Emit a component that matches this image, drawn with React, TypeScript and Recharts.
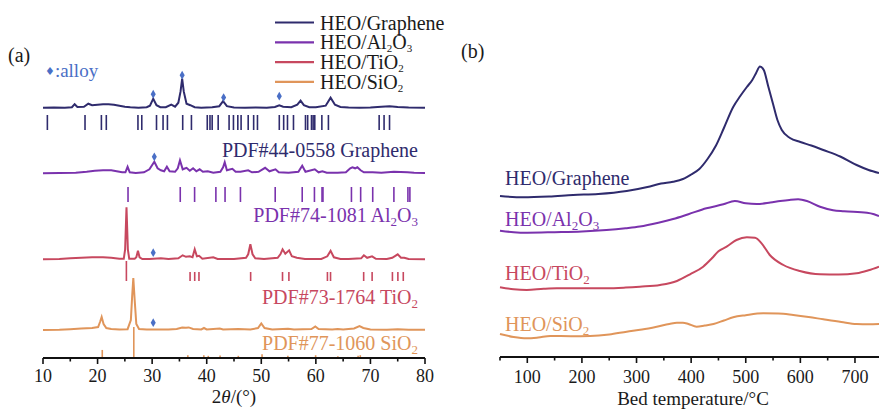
import React from "react";
import { ComposedChart, Line, Scatter, XAxis, YAxis, ZAxis, ReferenceLine } from "recharts";

const FONT = '"Liberation Serif", "Times New Roman", serif';

const SERIES = ["HEO/Graphene", "HEO/Al_2O_3", "HEO/TiO_2", "HEO/SiO_2"];
const COLORS = ["#2f2b6d", "#7a32ad", "#c7485f", "#e0955a"];
const ALLOY_COLOR = "#4a6fc6";

// (a) XRD patterns: [2θ, intensity a.u.]
const xrdGraphene = [
  [10, 0], [12, 0.3], [14, 0], [15.3, 0.5], [15.8, 3.5], [16.3, 0.8], [17.5, 1], [18.3, 4], [19, 2.5],
  [20, 3], [21, 3.5], [22, 3.5], [23, 3], [24, 2], [25, 1], [26, 0.5], [27.5, 0], [29, 0.5], [29.6, 2],
  [30.2, 9], [30.8, 2.5], [31.5, 0.5], [32.5, 0.5], [33.5, 3], [34.2, 1], [34.8, 5], [35.2, 16], [35.5, 29],
  [35.8, 16], [36.3, 4], [37.0, 2.5], [37.8, 0.5], [39, 0], [41, 0.5], [42.3, 1.5], [43.0, 6.5], [43.7, 1.5],
  [45, 0.3], [47, 0], [49, 0.3], [51, 0], [52.5, 0.8], [53.3, 2.5], [54, 1], [55.5, 0.5], [56.6, 3],
  [57.2, 7], [57.8, 2.5], [58.8, 0.5], [60, 0.5], [61.8, 2], [62.7, 10], [63.5, 3], [64.5, 0.8], [66, 0.3],
  [68, 0], [70, 0.3], [72, 1], [73.5, 1.5], [75, 0.8], [77, 0.3], [80, 0],
];
const xrdAl2O3 = [
  [10, 0], [13, 0.3], [16, 0.5], [18, 1.5], [19.5, 2.5], [21, 3], [22.5, 3], [23.5, 2], [24.5, 1], [25.1, 1],
  [25.5, 6.5], [25.9, 1], [27, 0.3], [28.5, 1], [29.5, 4], [30.4, 11.5], [31.0, 5], [31.6, 3], [32.2, 2],
  [32.7, 6.5], [33.2, 2], [34.2, 1.5], [34.7, 5], [35.1, 13], [35.6, 4], [36.3, 5.5], [36.9, 2.5], [37.5, 5],
  [38.1, 2], [38.7, 4], [39.3, 1.5], [40.2, 2], [41.2, 0.5], [42.5, 1.5], [43.0, 6], [43.3, 11], [43.7, 3],
  [44.7, 4.5], [45.3, 1.5], [46.2, 1.5], [47.6, 3], [48.3, 1], [49.5, 1.5], [50.7, 5.5], [51.5, 2], [52.6, 4],
  [53.2, 1], [55, 0.5], [56.8, 1.5], [57.5, 7.5], [58.1, 1.5], [59.8, 4], [60.5, 1], [61.2, 2], [62, 0.5],
  [64, 0.5], [65.5, 1], [66.3, 5], [66.7, 6], [67.2, 5], [67.6, 6], [68.2, 3], [68.8, 1], [70.4, 1],
  [72, 0.5], [74.3, 1.5], [76.8, 1], [78, 0.5], [80, 0.3],
];
const xrdTiO2 = [
  [10, 0], [13, 0.3], [15, 1], [17, 1.5], [19, 2], [21, 2], [22.5, 1.5], [24, 0.5], [24.8, 0.5], [25.05, 10],
  [25.3, 52], [25.55, 10], [25.8, 0.5], [26.8, 0.5], [27.1, 2], [27.4, 8.5], [27.7, 2], [28.2, 0.3],
  [29.5, 0.3], [31.6, 1], [33, 0.3], [34.8, 1], [35.6, 4], [36.2, 2.5], [36.9, 3], [37.4, 2], [37.8, 10],
  [38.2, 3], [38.6, 3.5], [39.2, 0.5], [41.2, 2], [42, 0.3], [45, 0.3], [47.2, 1.5], [47.6, 5], [48.0, 15],
  [48.4, 5], [48.9, 1], [50.5, 0.3], [53, 1.5], [53.5, 5], [53.9, 10], [54.4, 5.5], [55.1, 9], [55.6, 3],
  [56.5, 1.5], [58, 0.3], [61, 0.3], [62.1, 3], [62.7, 8.5], [63.3, 2], [64.5, 0.3], [66, 0.3], [68.3, 1],
  [68.8, 4], [69.4, 1.5], [70.3, 3], [71, 0.5], [73, 0.3], [74, 1.5], [75.0, 5], [75.6, 1.5], [76.2, 1.5],
  [77, 0.3], [80, 0],
];
const xrdSiO2 = [
  [10, 0], [13, 0.3], [15, 0.8], [17, 1.5], [19, 2], [20.1, 3], [20.45, 8], [20.75, 13], [21.1, 6],
  [21.6, 2], [22.5, 1], [24, 0.5], [25.5, 0.8], [26.1, 10], [26.35, 35], [26.55, 52], [26.8, 30], [27.1, 6],
  [27.6, 1], [29, 0.5], [31, 0.5], [33, 0.5], [34.5, 1], [35.5, 2.5], [36.2, 2.3], [36.7, 2.6], [37.5, 1],
  [39, 0.5], [39.5, 2], [40, 0.5], [42.4, 1.5], [43, 0.5], [45.8, 1], [48, 0.5], [49.4, 2], [50.0, 6.5],
  [50.6, 2], [52, 0.5], [54.9, 1.2], [56, 0.5], [59.2, 1], [59.9, 3.5], [60.5, 1], [63, 0.5], [64, 1],
  [65, 0.5], [67, 1.5], [68.0, 3.8], [68.7, 2], [70, 0.5], [73, 0.3], [75, 0.8], [77, 0.3], [80, 0.3],
];

// alloy reflections marked with ♦: [2θ, height]
const alloyGraphene = [[30.2, 13.5], [35.5, 32.5], [43.1, 10.2], [53.3, 11.5]];
const alloyAl2O3 = [[30.4, 16.5]];
const alloyTiO2 = [[30.2, 6.6]];
const alloySiO2 = [[30.2, 7.3]];

// PDF reference sticks: [2θ, relative intensity %]
const pdfGraphene = [
  10.8, 17.7, 20.7, 21.6, 27.4, 28.1, 30.8, 32.0, 32.8, 35.6, 37.2, 40.1, 40.6, 41.0, 42.1, 44.1, 44.9,
  45.7, 46.3, 47.6, 48.6, 49.3, 53.3, 54.1, 54.8, 55.9, 58.1, 58.5, 59.2, 59.5, 59.8, 61.1, 62.3, 71.6,
  72.5, 73.5,
].map((t) => [t, 100]);
const pdfAl2O3 = [
  25.58, 35.15, 37.78, 41.68, 43.36, 46.18, 52.55, 57.5, 59.74, 61.13, 61.3, 66.52, 68.21, 70.42, 74.3,
  76.87, 77.23,
].map((t) => [t, 100]);
const pdfTiO2 = [
  [25.28, 100], [36.95, 45], [37.8, 45], [38.58, 45], [48.05, 45], [53.89, 45], [55.06, 45], [62.12, 45],
  [62.69, 45], [68.76, 45], [70.31, 45], [74.03, 45], [75.03, 45], [76.02, 45],
];
const pdfSiO2 = [
  [20.86, 26], [26.64, 100], [36.54, 9], [39.47, 9], [40.29, 7], [42.45, 8], [45.79, 7], [50.14, 12],
  [54.87, 7], [59.96, 9], [64.03, 6], [67.74, 7], [68.14, 9],
];

const PDF_LABELS = [
  "PDF#44-0558 Graphene",
  "PDF#74-1081 Al_2O_3",
  "PDF#73-1764 TiO_2",
  "PDF#77-1060 SiO_2",
];

// (b) bed temperature profiles: [T °C, signal a.u.]
const tpdGraphene = [
  [50, 0], [92, -1.3], [140, -0.5], [184, 1], [230, 2], [282, 5], [320, 9], [345, 12.5], [367, 14.3],
  [385, 17], [400, 21.5], [415, 27], [430, 37], [445, 50], [460, 68], [477, 89], [490, 100], [502, 109],
  [512, 116], [519, 123], [526, 129.5], [533, 126], [541, 110], [550, 92], [558, 76], [566, 66], [581, 58],
  [600, 54], [620, 50.5], [642, 46], [673, 39.5], [703, 31], [725, 26], [744, 23],
];
const tpdAl2O3 = [
  [50, 0], [75, -1.5], [100, -2], [150, -1.5], [200, -0.8], [245, 0.7], [280, 2.5], [306, 4.2], [340, 8],
  [367, 11.7], [395, 16.5], [428, 22.4], [459, 26.4], [480, 29.7], [500, 27.5], [520, 26.7],
  [545, 28.2], [563, 29.7], [580, 30.8], [596, 31.4], [612, 29.7], [636, 24], [660, 20.5],
  [680, 19.5], [722, 18], [735, 16.5], [744, 14.7],
];
const tpdTiO2 = [
  [50, 0], [75, -2], [99, -2.7], [130, -1.5], [154, -1], [200, -1], [245, -1], [280, -0.3], [306, 0.6],
  [343, 2.3], [374, 6.3], [398, 13], [422, 20.6], [438, 29], [450, 36], [465, 40.6], [483, 47.3],
  [502, 50], [517, 49.6], [529, 44], [544, 32.3], [569, 22.3], [599, 16.3], [636, 13], [670, 12.8],
  [703, 14], [725, 17], [744, 20.6],
];
const tpdSiO2 = [
  [50, 0], [75, -3], [99, -4.3], [120, -3.5], [142, -2], [180, -2.2], [215, -2], [250, -0.5], [282, 2.3],
  [310, 4.5], [337, 7.3], [360, 10], [374, 11.3], [385, 11.3], [395, 10], [410, 7.3], [425, 8.5], [441, 10],
  [460, 13.5], [477, 16.7], [500, 18.8], [532, 20.7], [560, 20.5], [587, 19], [615, 17], [642, 14.7],
  [675, 12], [703, 10], [725, 9.8], [744, 10],
];

const xrdTicks = [10, 15, 20, 25, 30, 35, 40, 45, 50, 55, 60, 65, 70, 75, 80];
const tempTicks = [50, 100, 150, 200, 250, 300, 350, 400, 450, 500, 550, 600, 650, 700];

// vertical stacking of the patterns
const XRD_OFFSETS = [250.3, 184.7, 98.7, 28];
const PDF_BASES = [228, 156, 77, 0];
const PDF_LENGTHS = [15, 15, 20, 31];
const TPD_OFFSETS = [161, 126.3, 69.7, 23];

const xrdRows = [xrdGraphene, xrdAl2O3, xrdTiO2, xrdSiO2];
const alloyRows = [alloyGraphene, alloyAl2O3, alloyTiO2, alloySiO2];
const pdfRows = [pdfGraphene, pdfAl2O3, pdfTiO2, pdfSiO2];
const tpdRows = [tpdGraphene, tpdAl2O3, tpdTiO2, tpdSiO2];

const toPoints = (rows: number[][], offset: number) => rows.map(([x, v]) => ({ x, y: v + offset }));

// text with "_n" subscripts
const Chem = ({ text, sub = 13, shift = 4 }: { text: string; sub?: number; shift?: number }) => {
  const parts = text.split(/_(\d)/);
  const out: React.ReactNode[] = [];
  let down = false;
  parts.forEach((p, i) => {
    if (!p) return;
    if (i % 2 === 1) {
      out.push(<tspan key={i} dy={shift} fontSize={sub}>{p}</tspan>);
      down = true;
    } else {
      out.push(<tspan key={i} dy={down ? -shift : 0}>{p}</tspan>);
      down = false;
    }
  });
  return <>{out}</>;
};

const makeTick = (isMajor: (v: number) => boolean, labelDy: number) => (props: any) => {
  const { x, y, payload } = props;
  const major = isMajor(payload.value);
  return (
    <g>
      <line x1={x} x2={x} y1={y} y2={y + (major ? 6 : 3.5)} stroke="#111" strokeWidth={1.6} />
      {major && (
        <text x={x} y={y + labelDy} textAnchor="middle" fontSize={18} fill="#1a1a1a" fontFamily={FONT}>
          {payload.value}
        </text>
      )}
    </g>
  );
};

const XrdChart = () => (
  <ComposedChart width={440} height={409} margin={{ top: 8, right: 15, bottom: 6, left: 43 }}>
    <XAxis
      type="number"
      dataKey="x"
      domain={[10, 80]}
      ticks={xrdTicks}
      interval={0}
      tickSize={0}
      tickMargin={0}
      height={45}
      axisLine={{ stroke: "#111", strokeWidth: 2 }}
      tickLine={false}
      tick={makeTick((v) => v % 10 === 0, 24)}
    />
    <YAxis type="number" dataKey="y" domain={[0, 350]} hide />
    <ZAxis range={[22, 22]} />
    {pdfRows.map((rows, s) =>
      rows.map(([t, inten], i) => (
        <ReferenceLine
          key={`pdf-${s}-${i}`}
          segment={[
            { x: t, y: PDF_BASES[s] },
            { x: t, y: PDF_BASES[s] + (PDF_LENGTHS[s] * inten) / 100 },
          ]}
          stroke={COLORS[s]}
          strokeWidth={1.6}
          ifOverflow="visible"
        />
      ))
    )}
    {xrdRows.map((rows, s) => (
      <Line
        key={SERIES[s]}
        data={toPoints(rows, XRD_OFFSETS[s])}
        dataKey="y"
        type="linear"
        stroke={COLORS[s]}
        strokeWidth={2}
        dot={false}
        isAnimationActive={false}
      />
    ))}
    {alloyRows.map((rows, s) => (
      <Scatter
        key={`alloy-${s}`}
        data={toPoints(rows, XRD_OFFSETS[s])}
        shape="diamond"
        fill={ALLOY_COLOR}
        isAnimationActive={false}
      />
    ))}
  </ComposedChart>
);

const TpdChart = () => (
  <ComposedChart width={419} height={409} margin={{ top: 7, right: 0, bottom: 6, left: 40 }}>
    <XAxis
      type="number"
      dataKey="x"
      domain={[50, 744]}
      ticks={tempTicks}
      interval={0}
      tickSize={0}
      tickMargin={0}
      height={46}
      axisLine={{ stroke: "#111", strokeWidth: 2 }}
      tickLine={false}
      tick={makeTick((v) => v % 100 === 0, 26)}
    />
    <YAxis type="number" dataKey="y" domain={[0, 350]} hide />
    {tpdRows.map((rows, s) => (
      <Line
        key={SERIES[s]}
        data={toPoints(rows, TPD_OFFSETS[s])}
        dataKey="y"
        type="monotone"
        stroke={COLORS[s]}
        strokeWidth={2}
        dot={false}
        isAnimationActive={false}
      />
    ))}
  </ComposedChart>
);

const PDF_LABEL_Y = [157, 222, 304, 350];
const TPD_LABEL_Y = [185, 226, 280, 331];

export default function App() {
  return (
    <div style={{ position: "absolute", left: 0, top: 0, width: 879, height: 409, background: "#fff", fontFamily: FONT, overflow: "hidden" }}>
      <div style={{ position: "absolute", left: 0, top: 0 }}>
        <XrdChart />
      </div>
      <div style={{ position: "absolute", left: 460, top: 0 }}>
        <TpdChart />
      </div>
      <svg width={879} height={409} style={{ position: "absolute", left: 0, top: 0, pointerEvents: "none" }} fontFamily={FONT}>
        <text x={8} y={62} fontSize={20} fill="#1a1a1a">(a)</text>
        <text x={461} y={58} fontSize={20} fill="#1a1a1a">(b)</text>
        <text x={45} y={77} fontSize={19} fill={ALLOY_COLOR}>
          <tspan fontSize={11} fontFamily="DejaVu Sans" dy={-2}>♦</tspan>
          <tspan dy={2}>:alloy</tspan>
        </text>
        {SERIES.map((name, i) => (
          <g key={name}>
            <line x1={275} x2={314} y1={22.5 + i * 19.8} y2={22.5 + i * 19.8} stroke={COLORS[i]} strokeWidth={2.2} />
            <text x={320} y={29.5 + i * 19.8} fontSize={20} fill="#1a1a1a">
              <Chem text={name} sub={11} shift={3} />
            </text>
          </g>
        ))}
        {PDF_LABELS.map((lab, i) => (
          <text key={lab} x={418} y={PDF_LABEL_Y[i]} fontSize={20} textAnchor="end" fill={COLORS[i]}>
            <Chem text={lab} />
          </text>
        ))}
        {SERIES.map((name, i) => (
          <text key={`b-${name}`} x={505} y={TPD_LABEL_Y[i]} fontSize={20} fill={COLORS[i]}>
            <Chem text={name} />
          </text>
        ))}
        <text x={234} y={403} fontSize={19} textAnchor="middle" fill="#1a1a1a">
          2<tspan fontStyle="italic">θ</tspan>/(°)
        </text>
        <text x={693} y={405} fontSize={19} textAnchor="middle" fill="#1a1a1a">
          Bed temperature/°C
        </text>
      </svg>
    </div>
  );
}
